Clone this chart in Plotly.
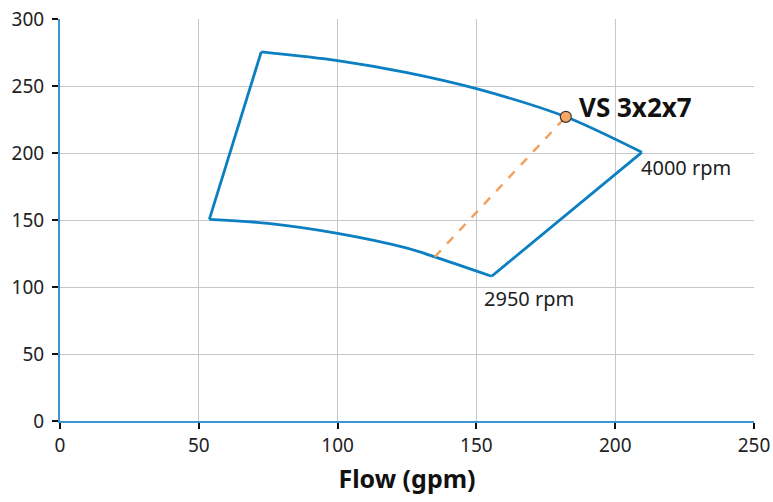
import plotly.graph_objects as go

# Performance envelope (Flow gpm vs Head)
top_x = [72.5, 100, 125, 150, 182.2, 209.6]        # 4000 rpm curve
top_y = [275.5, 269, 260, 248, 227, 200.5]
bot_x = [53.8, 75, 100, 125, 135, 155.5]            # 2950 rpm curve
bot_y = [150.5, 147.5, 140, 129, 122.5, 108]
op_x = [135, 182.2]                                  # system line to duty point
op_y = [122.5, 227]
duty_x = [182.2]
duty_y = [227]

blue = "#0b7fc1"
orange = "#f0a262"
lw = 2.8

fig = go.Figure()
# top and bottom speed curves (smooth)
fig.add_trace(go.Scatter(x=top_x, y=top_y, mode="lines",
                         line=dict(color=blue, width=lw, shape="spline", smoothing=0.8),
                         hoverinfo="skip"))
fig.add_trace(go.Scatter(x=bot_x, y=bot_y, mode="lines",
                         line=dict(color=blue, width=lw, shape="spline", smoothing=0.8),
                         hoverinfo="skip"))
# left and right edges
fig.add_trace(go.Scatter(x=[bot_x[0], top_x[0]], y=[bot_y[0], top_y[0]], mode="lines",
                         line=dict(color=blue, width=lw), hoverinfo="skip"))
fig.add_trace(go.Scatter(x=[bot_x[-1], top_x[-1]], y=[bot_y[-1], top_y[-1]], mode="lines",
                         line=dict(color=blue, width=lw), hoverinfo="skip"))
fig.add_trace(go.Scatter(x=op_x, y=op_y, mode="lines",
                         line=dict(color=orange, width=2.5, dash="dash"), hoverinfo="skip"))
fig.add_trace(go.Scatter(x=duty_x, y=duty_y, mode="markers",
                         marker=dict(size=11, color="#f7a766",
                                     line=dict(color="#333333", width=1.2)), hoverinfo="skip"))

fig.add_annotation(x=187.2, y=234.5, text="<b>VS 3x2x7</b>", showarrow=False,
                   xanchor="left", yanchor="middle", xshift=-3,
                   font=dict(size=26, color="#111111", family="Noto Sans"))
fig.add_annotation(x=209.6, y=189, text="4000 rpm", showarrow=False,
                   xanchor="left", yanchor="middle", xshift=-3,
                   font=dict(size=20, color="#222222", family="Noto Sans"))
fig.add_annotation(x=153, y=91.5, text="2950 rpm", showarrow=False,
                   xanchor="left", yanchor="middle", xshift=-3,
                   font=dict(size=20, color="#222222", family="Noto Sans"))

fig.update_layout(
    width=773, height=502,
    margin=dict(l=60, r=19, t=19, b=81),
    paper_bgcolor="white", plot_bgcolor="white",
    showlegend=False,
    font=dict(family="Noto Sans", size=19, color="#222222"),
    xaxis=dict(range=[0, 250], tickvals=[0, 50, 100, 150, 200, 250],
               showgrid=True, gridcolor="#c3c7ce", gridwidth=1,
               showline=True, linecolor="#3b95d0", linewidth=2,
               ticks="outside", ticklen=6, tickcolor="#111111", tickwidth=1.5,
               ticklabelstandoff=0, ticklabeloverflow="allow",
               zeroline=False, fixedrange=True, automargin=False,
               title=dict(text="<b>Flow (gpm)</b>", font=dict(size=25, color="#111111"),
                          standoff=14)),
    yaxis=dict(range=[0, 300], tickvals=[0, 50, 100, 150, 200, 250, 300],
               showgrid=True, gridcolor="#c3c7ce", gridwidth=1,
               showline=True, linecolor="#3b95d0", linewidth=2,
               ticks="outside", ticklen=6, tickcolor="#111111", tickwidth=1.5,
               ticklabelstandoff=4, ticklabeloverflow="allow",
               zeroline=False, fixedrange=True, automargin=False),
)

fig.write_html(
    "out.html",
    config={"displayModeBar": False},
    post_script="document.body.style.margin='0';document.body.style.overflow='hidden';",
)
